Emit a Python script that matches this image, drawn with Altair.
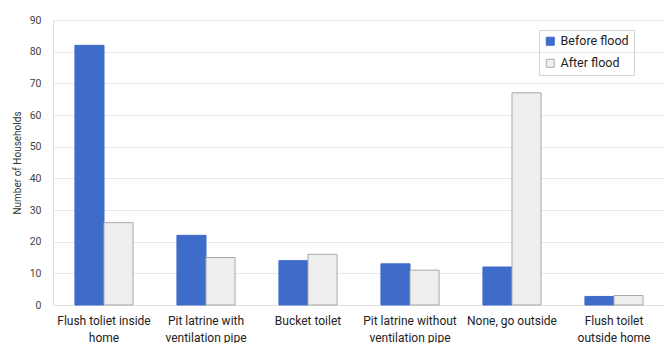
import altair as alt
import pandas as pd

categories = ["Flush toliet inside|home", "Pit latrine with|ventilation pipe", "Bucket toilet",
              "Pit latrine without|ventilation pipe", "None, go outside", "Flush toilet|outside home"]
before_flood = [82, 22, 14, 13, 12, 2.7]
after_flood = [26, 15, 16, 11, 67, 3]
series = ["Before flood", "After flood"]
y_ticks = [0, 10, 20, 30, 40, 50, 60, 70, 80, 90]

rows = []
for c, b, a in zip(categories, before_flood, after_flood):
    rows.append({"category": c, "series": series[0], "value": b})
    rows.append({"category": c, "series": series[1], "value": a})
df = pd.DataFrame(rows)

FONT = "Roboto"

chart = alt.Chart(df).mark_bar(strokeWidth=1).encode(
    x=alt.X("category:N", sort=categories, title=None,
            scale=alt.Scale(paddingInner=0.43, paddingOuter=0.215),
            axis=alt.Axis(labelExpr="split(datum.label, '|')", labelAngle=0, ticks=False,
                          domain=True, domainColor="#e0e0e0", labelPadding=10,
                          labelFontSize=12, labelColor="#222222", labelFont=FONT,
                          labelLineHeight=17, labelBaseline="top")),
    xOffset=alt.XOffset("series:N", sort=series),
    y=alt.Y("value:Q", title="Number of Households",
            scale=alt.Scale(domain=[0, 90], nice=False),
            axis=alt.Axis(values=y_ticks, domain=False, ticks=False, gridColor="#e8e8e8",
                          labelFontSize=10.5, labelColor="#444444", labelFont=FONT, labelPadding=12,
                          titleFont=FONT, titleFontSize=10, titleFontWeight="normal",
                          titleColor="#333333", titlePadding=7)),
    fill=alt.Fill("series:N", sort=series, title=None,
                  scale=alt.Scale(domain=series, range=["#3F6BC9", "#efefef"]),
                  legend=alt.Legend(orient="none", legendX=486, legendY=10, symbolType="square",
                                    symbolSize=64, labelFontSize=12.5, labelFont=FONT,
                                    labelColor="#222222", padding=5, strokeColor="#d4d4d4",
                                    rowPadding=9, symbolStrokeWidth=1, labelOffset=4)),
    stroke=alt.Stroke("series:N", sort=series, title=None,
                      scale=alt.Scale(domain=series, range=["#3F6BC9", "#a9a9a9"]),
                      legend=None),
).properties(
    width=612, height=285,
    autosize=alt.AutoSizeParams(type="none"),
    padding={"left": 53, "top": 20, "right": 0, "bottom": 38},
).configure_view(stroke=None).configure(background="white")

chart.save("out.html", embed_options={"renderer": "svg", "actions": False})
